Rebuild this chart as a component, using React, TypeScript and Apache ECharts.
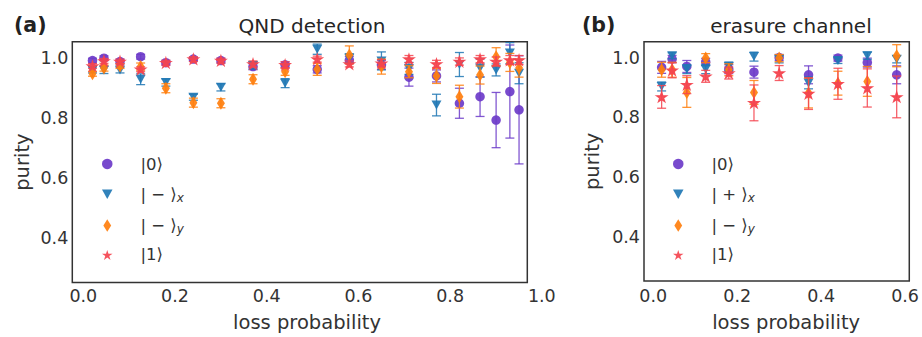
import React, { useEffect, useRef } from 'react';
import * as echarts from 'echarts';

// ---------- data ----------
const xTicksA = [0, 0.2, 0.4, 0.6, 0.8, 1.0];
const xTicksB = [0, 0.2, 0.4, 0.6];
const yTicks = [0.4, 0.6, 0.8, 1.0];

// (a) QND detection
const xA = [0.02, 0.045, 0.08, 0.125, 0.18, 0.24, 0.3, 0.37, 0.44, 0.51, 0.58, 0.65, 0.71, 0.77, 0.82, 0.865, 0.9, 0.93, 0.95];
const a0 = [0.991, 0.999, 0.988, 1.004, 0.984, 0.996, 0.991, 0.971, 0.977, 0.962, 0.993, 0.977, 0.936, 0.94, 0.849, 0.871, 0.793, 0.888, 0.827];
const a0Err = [0.008, 0.008, 0.008, 0.008, 0.008, 0.006, 0.008, 0.01, 0.01, 0.012, 0.012, 0.015, 0.03, 0.02, 0.05, 0.066, 0.092, 0.155, 0.18];
const aMx = [0.96, 0.96, 0.96, 0.929, 0.918, 0.869, 0.902, 0.975, 0.916, 1.029, 0.999, 0.99, 0.965, 0.843, 0.978, 0.966, 0.96, 1.016, 0.949];
const aMxErr = [0.01, 0.012, 0.01, 0.018, 0.012, 0.01, 0.012, 0.012, 0.015, 0.017, 0.015, 0.03, 0.02, 0.036, 0.04, 0.03, 0.02, 0.035, 0.035];
const aMy = [0.947, 0.966, 0.973, 0.971, 0.899, 0.851, 0.849, 0.929, 0.954, 0.962, 1.01, 0.971, 0.954, 0.94, 0.871, 0.943, 1.004, 0.985, 0.966];
const aMyErr = [0.008, 0.01, 0.008, 0.012, 0.015, 0.015, 0.015, 0.015, 0.012, 0.02, 0.03, 0.025, 0.02, 0.025, 0.038, 0.03, 0.03, 0.03, 0.03];
const a1 = [0.973, 0.99, 0.988, 0.962, 0.984, 0.996, 0.991, 0.98, 0.977, 0.996, 0.98, 0.982, 0.996, 0.98, 0.988, 0.996, 0.988, 0.993, 0.993];
const a1Err = [0.008, 0.008, 0.008, 0.008, 0.008, 0.008, 0.008, 0.01, 0.01, 0.01, 0.01, 0.012, 0.012, 0.012, 0.012, 0.012, 0.015, 0.015, 0.015];

// (b) erasure channel
const xB = [0.02, 0.045, 0.08, 0.125, 0.18, 0.24, 0.3, 0.37, 0.44, 0.51, 0.58];
const b0 = [0.968, 0.996, 0.971, 0.986, 0.962, 0.952, 1.001, 0.943, 0.999, 0.984, 0.943];
const b0Err = [0.02, 0.012, 0.02, 0.012, 0.015, 0.02, 0.01, 0.03, 0.01, 0.015, 0.03];
const bPx = [0.904, 1.007, 0.962, 0.962, 0.971, 1.004, 0.995, 0.916, 0.991, 1.007, 0.995];
const bPxErr = [0.015, 0.01, 0.015, 0.015, 0.015, 0.015, 0.012, 0.02, 0.01, 0.012, 0.012];
const bMy = [0.96, 0.96, 0.884, 0.999, 0.96, 0.884, 0.999, 0.882, 0.915, 0.921, 1.007];
const bMyErr = [0.025, 0.025, 0.05, 0.015, 0.02, 0.04, 0.012, 0.05, 0.04, 0.05, 0.037];
const b1 = [0.869, 0.958, 0.91, 0.938, 0.949, 0.849, 0.949, 0.88, 0.913, 0.899, 0.869];
const b1Err = [0.038, 0.025, 0.03, 0.02, 0.02, 0.06, 0.025, 0.053, 0.052, 0.064, 0.07];

const Y_MIN = 0.252;
const Y_MAX = 1.054;

// ---------- style ----------
const FONT = 'DejaVu Sans';
const TXT = '#333333';
const PURPLE = '#6c3bc9';
const BLUE = '#1f77b4';
const ORANGE = '#ff7f0e';
const RED = '#f4444f';

const SYM_CIRCLE = 'circle';
const SYM_TRI = 'path://M0,0 L2,0 L1,1.8 Z';
const SYM_DIA = 'path://M1,0 L2,1.6 L1,3.2 L0,1.6 Z';
const SYM_STAR =
  'path://M0,-1 L0.2245,-0.309 L0.951,-0.309 L0.363,0.118 L0.588,0.809 L0,0.382 L-0.588,0.809 L-0.363,0.118 L-0.951,-0.309 L-0.2245,-0.309 Z';

const LEGEND_TEXT: Record<string, string> = {
  a0: '{g|}{n||0⟩}',
  ax: '{g|}{n|| − ⟩}{s|x}',
  ay: '{g|}{n|| − ⟩}{s|y}',
  a1: '{g|}{n||1⟩}',
  b0: '{g|}{n||0⟩}',
  bx: '{g|}{n|| + ⟩}{s|x}',
  by: '{g|}{n|| − ⟩}{s|y}',
  b1: '{g|}{n||1⟩}',
};

function errSeries(name: string, xs: number[], ys: number[], es: number[], color: string, axis: number, z: number) {
  return {
    type: 'custom',
    name,
    xAxisIndex: axis,
    yAxisIndex: axis,
    z,
    silent: true,
    encode: { x: 0, y: 1 },
    data: xs.map((x, i) => [x, ys[i], es[i]]),
    renderItem: (params: any, api: any) => {
      const x = api.value(0);
      const y = api.value(1);
      const e = api.value(2);
      const lo = Math.max(y - e, Y_MIN);
      const hi = Math.min(y + e, Y_MAX);
      const p1 = api.coord([x, lo]);
      const p2 = api.coord([x, hi]);
      const cw = 4.5;
      const style = { stroke: color, lineWidth: 1.3, opacity: 0.85 };
      const children: any[] = [
        { type: 'line', shape: { x1: p1[0], y1: p1[1], x2: p2[0], y2: p2[1] }, style },
      ];
      if (y - e >= Y_MIN) children.push({ type: 'line', shape: { x1: p1[0] - cw, y1: p1[1], x2: p1[0] + cw, y2: p1[1] }, style });
      if (y + e <= Y_MAX) children.push({ type: 'line', shape: { x1: p2[0] - cw, y1: p2[1], x2: p2[0] + cw, y2: p2[1] }, style });
      return { type: 'group', children };
    },
  };
}

function dotSeries(name: string, xs: number[], ys: number[], color: string, symbol: string, size: any, axis: number, z: number, border = 0) {
  return {
    type: 'scatter',
    name,
    xAxisIndex: axis,
    yAxisIndex: axis,
    z,
    symbol,
    symbolSize: size,
    itemStyle: { color, opacity: 0.92, borderColor: color, borderWidth: border },
    data: xs.map((x, i) => [x, ys[i]]),
  };
}

function yAxisDef(grid: number, show: boolean, gap: number) {
  return {
    type: 'value',
    gridIndex: grid,
    min: Y_MIN,
    max: Y_MAX,
    show,
    name: 'purity',
    nameLocation: 'middle',
    nameGap: gap,
    nameTextStyle: { fontFamily: FONT, fontSize: 19.5, color: TXT },
    axisLine: { show: false },
    axisTick: { show: false },
    splitLine: { show: false },
    axisLabel: {
      customValues: yTicks,
      formatter: (v: number) => v.toFixed(1),
      margin: 4,
      fontFamily: FONT,
      fontSize: 17.5,
      color: TXT,
    },
  };
}

const legendBase = {
  orient: 'vertical',
  padding: 0,
  itemGap: 11.3,
  itemWidth: 10.5,
  itemHeight: 12.5,
  selectedMode: false,
  formatter: (name: string) => LEGEND_TEXT[name],
  textStyle: {
    fontFamily: FONT,
    fontSize: 16.5,
    color: TXT,
    rich: {
      g: { width: 23 },
      n: { fontFamily: FONT, fontSize: 16.5, color: TXT, lineHeight: 19 },
      s: { fontFamily: FONT, fontSize: 12, fontStyle: 'italic', color: TXT, lineHeight: 12, verticalAlign: 'bottom', padding: [8, 0, 0, 0] },
    },
  },
};

function legendData(names: string[]) {
  return names.map((n, i) => (i === 3 ? { name: n, itemStyle: { borderWidth: 0 } } : { name: n }));
}

export default function App() {
  const ref = useRef<HTMLDivElement>(null);
  useEffect(() => {
    const chart = echarts.init(ref.current!, null, { renderer: 'svg' });
    const option: any = {
      animation: false,
      backgroundColor: '#ffffff',
      title: [
        { text: '(a)', left: 9, top: 9, textStyle: { fontFamily: FONT, fontSize: 20.5, fontWeight: 'bold', color: '#222' } },
        { text: '(b)', left: 577, top: 9, textStyle: { fontFamily: FONT, fontSize: 20.5, fontWeight: 'bold', color: '#222' } },
        { text: 'QND detection', left: 307, top: 11, textAlign: 'center', textStyle: { fontFamily: FONT, fontSize: 20, fontWeight: 'normal', color: '#262626' } },
        { text: 'erasure channel', left: 786, top: 11, textAlign: 'center', textStyle: { fontFamily: FONT, fontSize: 20, fontWeight: 'normal', color: '#262626' } },
      ],
      grid: [
        { left: 72.3, top: 41.7, width: 455, height: 240.8, show: true, borderColor: '#333', borderWidth: 1.5, backgroundColor: 'transparent' },
        { left: 72.3, top: 41.7, width: 469.5, height: 240.8, show: false },
        { left: 644, top: 41.7, width: 266.7, height: 240.8, show: true, borderColor: '#333', borderWidth: 1.5, backgroundColor: 'transparent' },
      ],
      xAxis: [
        {
          type: 'value', gridIndex: 0, min: -0.024, max: 0.968,
          axisLine: { show: false }, axisTick: { show: false }, splitLine: { show: false }, axisLabel: { show: false },
        },
        {
          type: 'value', gridIndex: 1, min: -0.024, max: 1.0,
          name: 'loss probability', nameLocation: 'middle', nameGap: 31,
          nameTextStyle: { fontFamily: FONT, fontSize: 19.5, color: TXT },
          axisLine: { show: false }, axisTick: { show: false }, splitLine: { show: false },
          axisLabel: { customValues: xTicksA, formatter: (v: number) => v.toFixed(1), margin: 5.5, fontFamily: FONT, fontSize: 17.5, color: TXT },
        },
        {
          type: 'value', gridIndex: 2, min: -0.022, max: 0.61,
          name: 'loss probability', nameLocation: 'middle', nameGap: 31,
          nameTextStyle: { fontFamily: FONT, fontSize: 19.5, color: TXT, padding: [0, 0, 0, 19] },
          axisLine: { show: false }, axisTick: { show: false }, splitLine: { show: false },
          axisLabel: { customValues: xTicksB, formatter: (v: number) => v.toFixed(1), margin: 5.5, fontFamily: FONT, fontSize: 17.5, color: TXT },
        },
      ],
      yAxis: [yAxisDef(0, true, 40), yAxisDef(1, false, 40), yAxisDef(2, true, 42)],
      legend: [
        { ...legendBase, left: 102, top: 155.5, data: legendData(['a0', 'ax', 'ay', 'a1']) },
        { ...legendBase, left: 673, top: 155.5, data: legendData(['b0', 'bx', 'by', 'b1']) },
      ],
      series: [
        errSeries('a0e', xA, a0, a0Err, PURPLE, 0, 2),
        dotSeries('a0', xA, a0, PURPLE, SYM_CIRCLE, 9.5, 0, 3),
        errSeries('axe', xA, aMx, aMxErr, BLUE, 0, 4),
        dotSeries('ax', xA, aMx, BLUE, SYM_TRI, [10, 9], 0, 5),
        errSeries('aye', xA, aMy, aMyErr, ORANGE, 0, 6),
        dotSeries('ay', xA, aMy, ORANGE, SYM_DIA, [8, 13], 0, 7),
        errSeries('a1e', xA, a1, a1Err, RED, 0, 8),
        dotSeries('a1', xA, a1, RED, SYM_STAR, [10, 9.5], 0, 9, 1.3),

        errSeries('b0e', xB, b0, b0Err, PURPLE, 2, 2),
        dotSeries('b0', xB, b0, PURPLE, SYM_CIRCLE, 9.5, 2, 3),
        errSeries('bxe', xB, bPx, bPxErr, BLUE, 2, 4),
        dotSeries('bx', xB, bPx, BLUE, SYM_TRI, [10, 9], 2, 5),
        errSeries('bye', xB, bMy, bMyErr, ORANGE, 2, 6),
        dotSeries('by', xB, bMy, ORANGE, SYM_DIA, [8, 13], 2, 7),
        errSeries('b1e', xB, b1, b1Err, RED, 2, 8),
        dotSeries('b1', xB, b1, RED, SYM_STAR, [10, 9.5], 2, 9, 1.3),
      ],
    };
    chart.setOption(option);
    return () => chart.dispose();
  }, []);
  return <div ref={ref} style={{ position: 'absolute', left: 0, top: 0, width: 922, height: 337 }} />;
}
